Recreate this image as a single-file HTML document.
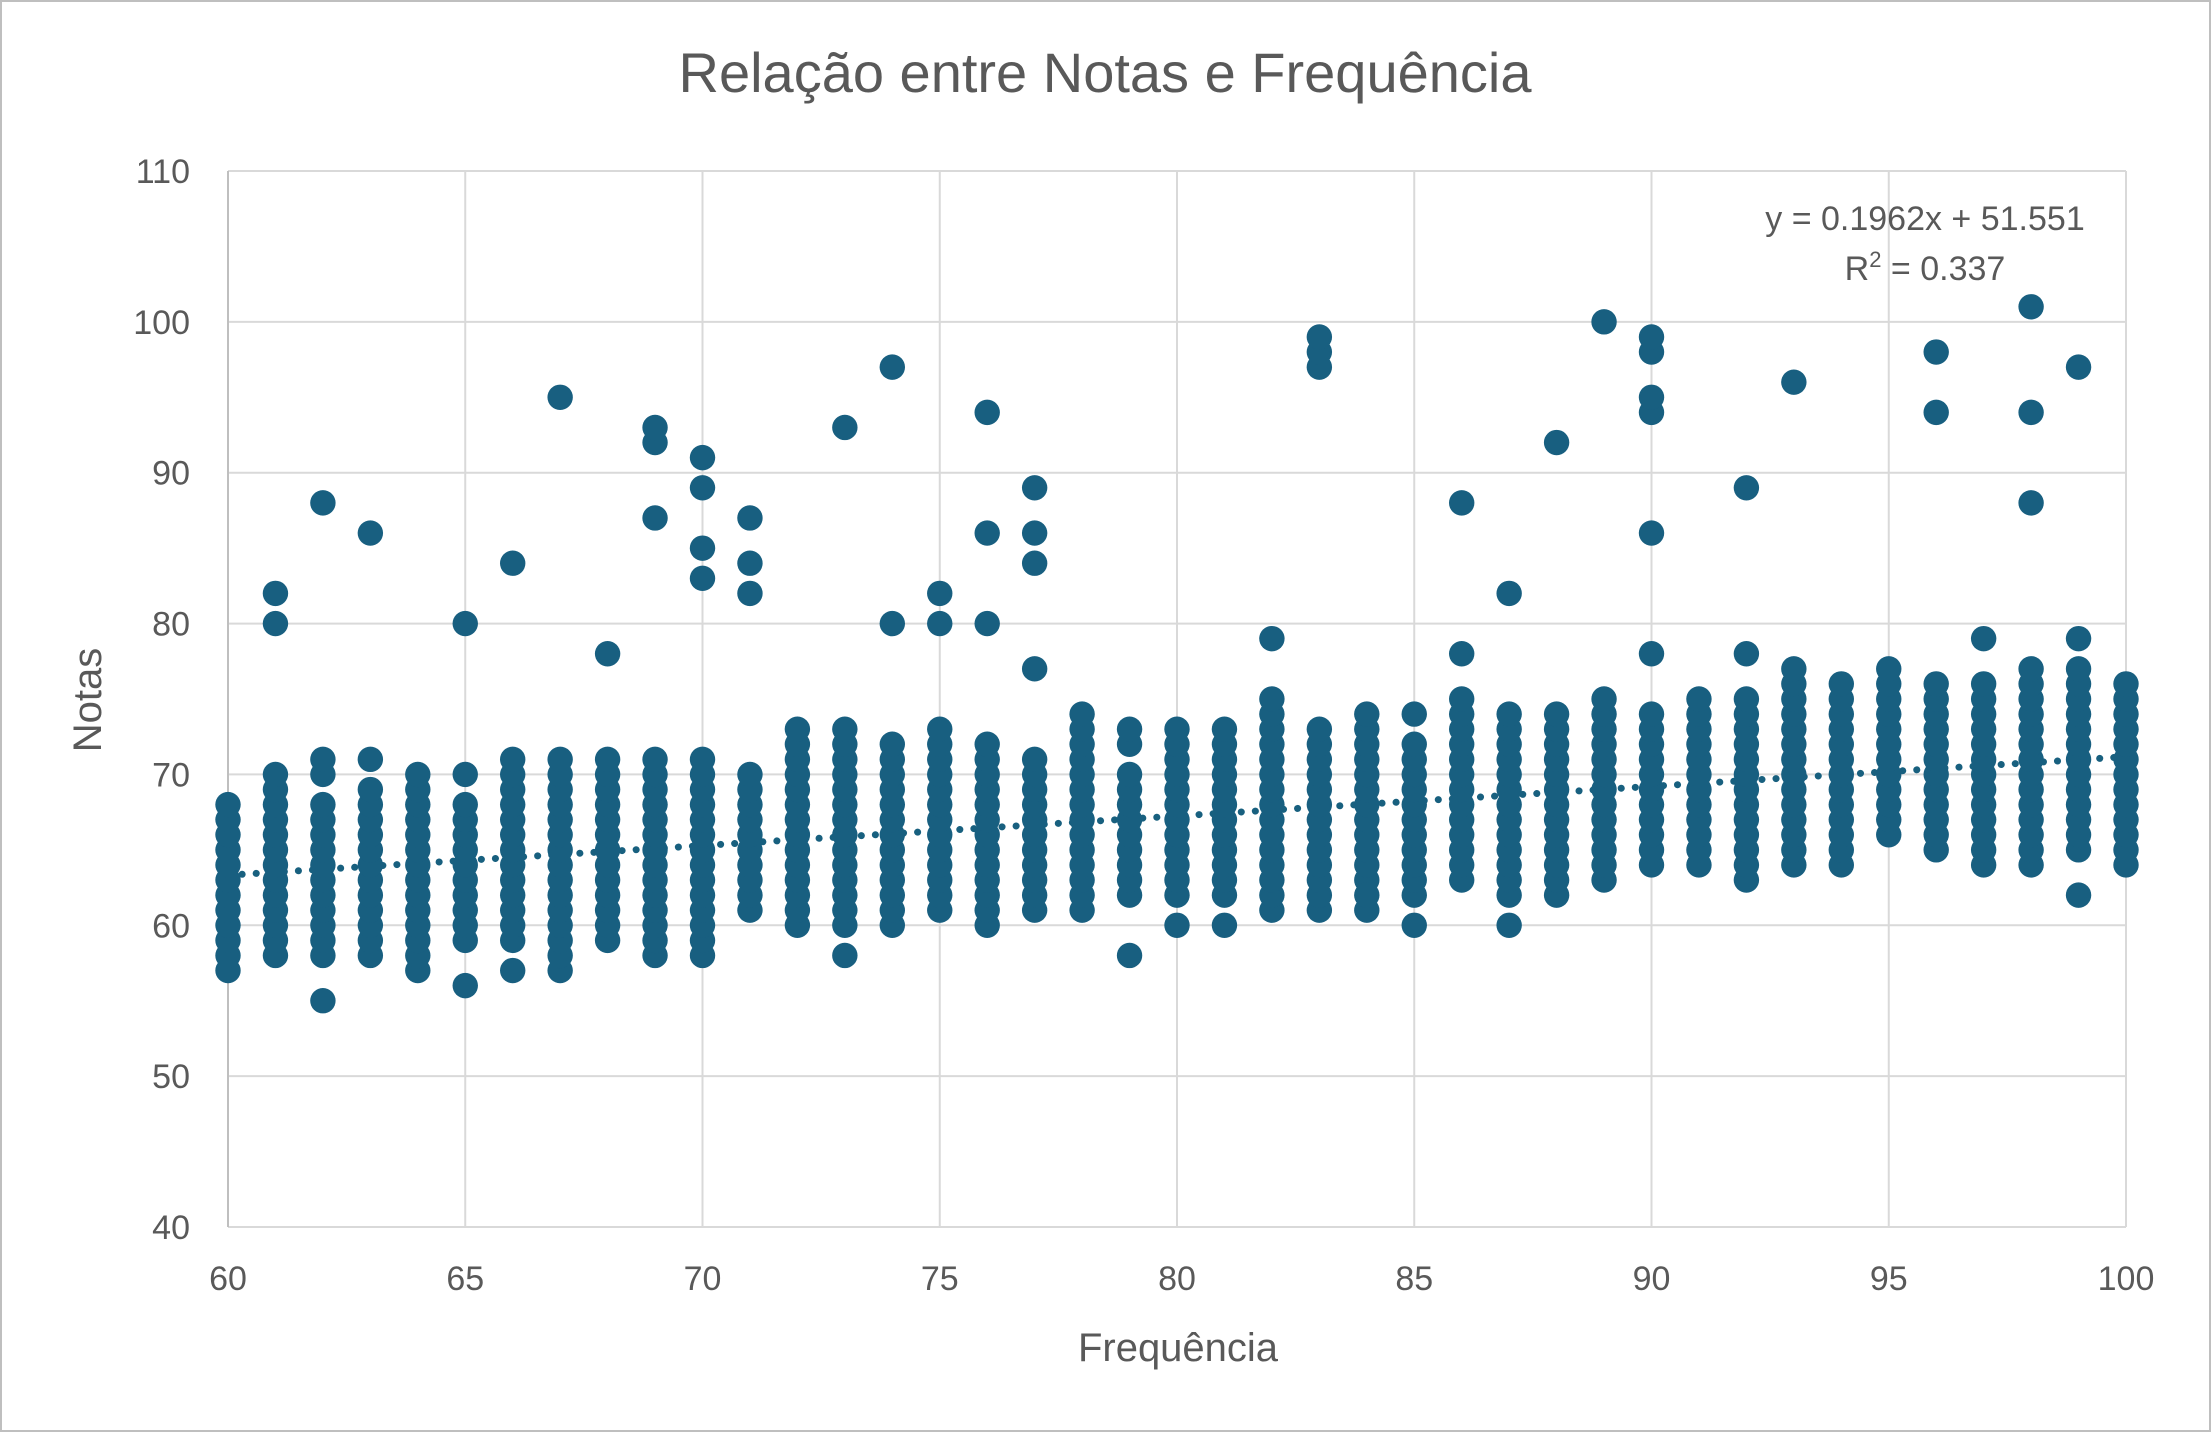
<!DOCTYPE html>
<html><head><meta charset="utf-8"><style>
html,body{margin:0;padding:0;background:#fff;}
svg{display:block;font-family:"Liberation Sans",sans-serif;}
</style></head><body>
<svg id="chart" width="2211" height="1432" viewBox="0 0 2211 1432" xmlns="http://www.w3.org/2000/svg">
<rect x="1" y="1" width="2209" height="1430" fill="#fff" stroke="#bfbfbf" stroke-width="2"/>
<text x="1105" y="92" text-anchor="middle" font-size="56" fill="#595959">Relação entre Notas e Frequência</text>
<g id="grid"></g><g id="trend"></g><g id="dots"></g><g id="labels"></g>
<text x="1178" y="1361" text-anchor="middle" font-size="40" fill="#595959">Frequência</text>
<text transform="translate(101,700) rotate(-90)" text-anchor="middle" font-size="40" fill="#595959">Notas</text>
<text x="1925" y="230" text-anchor="middle" font-size="34" fill="#595959">y = 0.1962x + 51.551</text>
<text x="1925" y="280" text-anchor="middle" font-size="34" fill="#595959">R<tspan dy="-13" font-size="22">2</tspan><tspan dy="13"> = 0.337</tspan></text>
</svg>
<script>
const xCats = [60,61,62,63,64,65,66,67,68,69,70,71,72,73,74,75,76,77,78,79,80,81,82,83,84,85,86,87,88,89,90,91,92,93,94,95,96,97,98,99,100];
const lows  = [57,58,58,58,57,59,59,57,59,58,58,61,60,60,60,61,60,61,61,62,62,62,61,61,63,62,63,62,62,63,64,64,63,64,64,66,65,64,64,65,64];
const highs = [68,70,68,69,70,68,71,71,71,71,71,70,73,73,72,73,72,71,74,70,73,73,75,73,74,72,75,74,74,75,74,75,75,77,76,77,76,76,77,77,76];
const extras = [[],[80,82],[55,70,71,88],[71,86],[],[56,70,80],[57,84],[95],[78],[87,92,93],[83,85,89,91],[82,84,87],[],[58,93],[80,97],[80,82],[80,86,94],[77,84,86,89],[],[58,72,73],[60],[60],[79],[97,98,99],[61,62],[60,74],[78,88],[60,82],[92],[100],[78,86,94,95,98,99],[],[78,89],[96],[],[],[94,98],[79],[88,94,101],[62,79,97],[]];
const xTicks = [60,65,70,75,80,85,90,95,100];
const yTicks = [40,50,60,70,80,90,100,110];
const slope = 0.1962, intercept = 51.551;

const NS="http://www.w3.org/2000/svg";
const X0=228,X1=2126,Y0=1227,Y1=171;
const sx=v=>X0+(v-60)/40*(X1-X0);
const sy=v=>Y0-(v-40)/70*(Y0-Y1);
function mk(tag,attrs,parent){const e=document.createElementNS(NS,tag);for(const k in attrs)e.setAttribute(k,attrs[k]);document.getElementById(parent).appendChild(e);return e;}
yTicks.forEach(t=>{
  const l=mk('line',{x1:X0,x2:X1,y1:sy(t),y2:sy(t),stroke:'#d9d9d9','stroke-width':2},'grid');
  
  
  const tx=mk('text',{x:X0-38,y:sy(t)+12,'text-anchor':'end','font-size':34,fill:'#595959'},'labels');
  tx.textContent=t;
  
  
});
xTicks.forEach(t=>{
  const l=mk('line',{x1:sx(t),x2:sx(t),y1:Y1,y2:Y0,stroke:t===60?'#bfbfbf':'#d9d9d9','stroke-width':2},'grid');
  
  
  const tx=mk('text',{x:sx(t),y:Y0+63,'text-anchor':'middle','font-size':34,fill:'#595959'},'labels');
  tx.textContent=t;
  
  
});
const tl=mk('line',{x1:sx(60),y1:sy(slope*60+intercept),x2:sx(100),y2:sy(slope*100+intercept),stroke:'#18607f','stroke-width':7,'stroke-dasharray':'0.1 14','stroke-linecap':'round'},'trend');


xCats.forEach((x,i)=>{
  const vals=[];
  for(let v=lows[i];v<=highs[i];v++)vals.push(v);
  extras[i].forEach(v=>vals.push(v));
  vals.forEach(v=>{
    const c=mk('circle',{cx:sx(x),cy:sy(v),r:12.7,fill:'#185f80'},'dots');
    
    
  });
});
</script>
</body></html>
